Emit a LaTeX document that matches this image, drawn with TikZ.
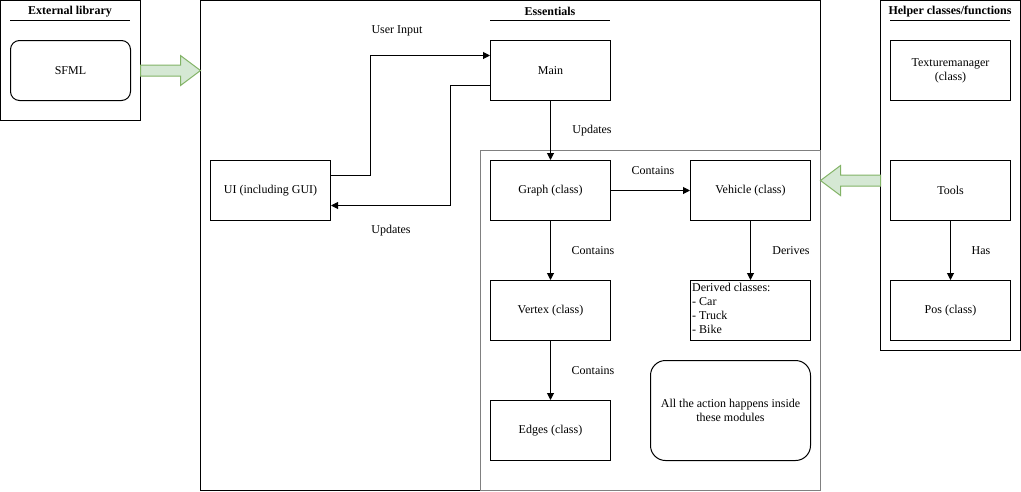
\documentclass[tikz,border=0pt]{standalone}
\usepackage{fontspec}
\setmainfont{Liberation Serif}
\usetikzlibrary{arrows.meta}
\definecolor{arrowfill}{HTML}{D5E8D4}
\definecolor{arrowline}{HTML}{82B366}
\definecolor{framegray}{HTML}{808080}
\begin{document}
\begin{tikzpicture}[x=1pt,y=-1pt,
  every node/.style={font=\fontsize{12}{14}\selectfont},
  box/.style={draw,line width=1pt,minimum width=120pt,minimum height=60pt,inner sep=0pt,align=center},
  rbox/.style={box,rounded corners=9pt},
  frame/.style={draw,line width=1pt},
  title/.style={font=\bfseries\fontsize{12}{14}\selectfont},
  lbl/.style={inner sep=1pt},
  conn/.style={draw,line width=1pt,-{Triangle[length=7pt,width=7pt]}},
  bigarrow/.style={fill=arrowfill,draw=arrowline,line width=1pt,line join=miter}]
\useasboundingbox (0,0) rectangle (1021,491);

% outer frames
\draw[frame] (0.5,0.5) rectangle (140.5,120.5);
\draw[frame] (200.5,0.5) rectangle (820.5,490.5);
\draw[frame] (880.5,0.5) rectangle (1020.5,350.5);
\draw[line width=1pt,draw=framegray] (480.5,150.5) rectangle (820.5,490.5);

% frame titles with underlines
\node[title] (tExt) at (70,11.5) {External library};
\draw[line width=1pt] (10,20.5) -- (130,20.5);
\node[title] (tEss) at (550,11.5) {Essentials};
\draw[line width=1pt] (490,20.5) -- (610,20.5);
\node[title] (tHlp) at (950,11.5) {Helper classes/functions};
\draw[line width=1pt] (890,20.5) -- (1010,20.5);

% modules
\node[rbox] (sfml) at (70.5,70.5) {SFML};
\node[box] (main) at (550.5,70.5) {Main};
\node[box] (ui) at (270.5,190.5) {UI (including GUI)};
\node[box] (graph) at (550.5,190.5) {Graph (class)};
\node[box] (vehicle) at (750.5,190.5) {Vehicle (class)};
\node[box] (vertex) at (550.5,310.5) {Vertex (class)};
\node[box] (edges) at (550.5,430.5) {Edges (class)};
\node[box] (derived) at (750.5,310.5) {};
\node[anchor=north west,align=left,inner sep=0pt] (derivedtext) at ([xshift=2pt,yshift=-3pt]derived.north west)
  {Derived classes:\\- Car\\- Truck\\- Bike};
\node[box,minimum width=160pt,minimum height=100pt,rounded corners=15pt] (note) at (730.5,410.5)
  {All the action happens inside\\these modules};
\node[box] (texman) at (950.5,70.5) {Texturemanager\\(class)};
\node[box] (tools) at (950.5,190.5) {Tools};
\node[box] (pos) at (950.5,310.5) {Pos (class)};

% block arrows between frames
\draw[bigarrow] (140.5,65) -- (180.5,65) -- (180.5,55.5) -- (200.5,70.5) -- (180.5,85.5) -- (180.5,76) -- (140.5,76) -- cycle;
\draw[bigarrow] (880.5,175) -- (840.5,175) -- (840.5,165.5) -- (820.5,180.5) -- (840.5,195.5) -- (840.5,186) -- (880.5,186) -- cycle;

% connectors
\draw[conn] ([yshift=15pt]ui.east) -- (370.5,175.5) -- (370.5,55.5) -- ([yshift=15pt]main.west);
\node[lbl] (lUser) at (397,30.5) {User Input};
\draw[conn] ([yshift=-15pt]main.west) -- (450.5,85.5) -- (450.5,205.5) -- ([yshift=-15pt]ui.east);
\node[lbl] (lUpd1) at (391,230.5) {Updates};
\draw[conn] (main.south) -- (graph.north);
\node[lbl] (lUpd2) at (592,130.5) {Updates};
\draw[conn] (graph.east) -- (vehicle.west);
\node[lbl] (lCont1) at (653,170.5) {Contains};
\draw[conn] (graph.south) -- (vertex.north);
\node[lbl] (lCont2) at (593,250.5) {Contains};
\draw[conn] (vertex.south) -- (edges.north);
\node[lbl] (lCont3) at (593,370.5) {Contains};
\draw[conn] (vehicle.south) -- (derived.north);
\node[lbl] (lDer) at (791,250.5) {Derives};
\draw[conn] (tools.south) -- (pos.north);
\node[lbl] (lHas) at (981,250.5) {Has};
\end{tikzpicture}
\end{document}
